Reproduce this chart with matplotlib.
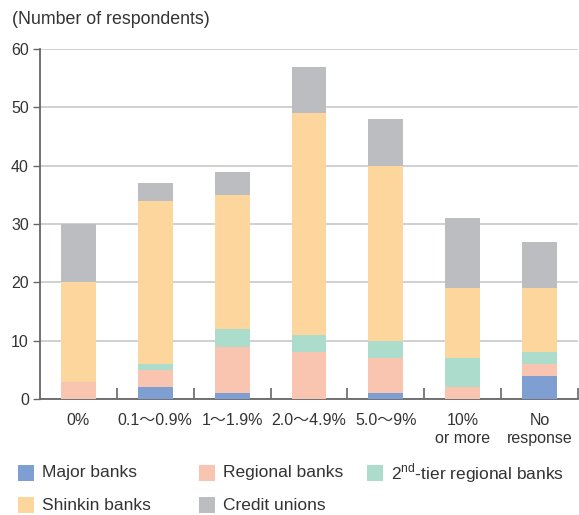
import matplotlib
matplotlib.use("Agg")
import matplotlib.pyplot as plt
from matplotlib.patches import Rectangle
import numpy as np

plt.rcParams['font.family'] = ['Liberation Sans', 'Noto Sans CJK JP', 'DejaVu Sans']

categories = ["0%", "0.1～0.9%", "1～1.9%", "2.0～4.9%", "5.0～9%", "10%\nor more", "No\nresponse"]
major = [0, 2, 1, 0, 1, 0, 4]
regional = [3, 3, 8, 8, 6, 2, 2]
second_tier = [0, 1, 3, 3, 3, 5, 2]
shinkin = [17, 28, 23, 38, 30, 12, 11]
credit = [10, 3, 4, 8, 8, 12, 8]

series = [
    ("Major banks", major, "#7f9fd3"),
    ("Regional banks", regional, "#fac5b0"),
    ("2$^{\\mathregular{nd}}$-tier regional banks", second_tier, "#acdccb"),
    ("Shinkin banks", shinkin, "#fdd69d"),
    ("Credit unions", credit, "#bcbdc1"),
]

W, H = 579, 515
fig = plt.figure(figsize=(W / 100, H / 100), dpi=100)
ax = fig.add_axes([40 / W, 1 - 399 / H, 538 / W, 350 / H])

x = np.arange(len(categories))
bottom = np.zeros(len(categories))
for name, vals, col in series:
    ax.bar(x, vals, width=0.455, bottom=bottom, color=col, zorder=3, linewidth=0)
    bottom += np.array(vals)

ax.set_xlim(-0.5, len(categories) - 0.5)
ax.set_ylim(0, 60)
ax.set_yticks(range(0, 61, 10))
ax.yaxis.grid(True, color="#c8c8c8", linewidth=1.2, zorder=0)
ax.set_axisbelow(True)

ax.set_xticks(x)
ax.set_xticklabels(categories, fontsize=11.5, color="#333333", linespacing=1.3)
ax.tick_params(axis='x', which='major', length=0, pad=10)
ax.set_xticks(np.arange(0.5, len(categories) - 0.4, 1), minor=True)
ax.tick_params(axis='x', which='minor', direction='in', length=8, width=1.2, color="#666666")
ax.tick_params(axis='y', labelsize=11.5, length=5, width=1, color="#666666", labelcolor="#333333", pad=3)

for s in ["top", "right"]:
    ax.spines[s].set_visible(False)
for s in ["left", "bottom"]:
    ax.spines[s].set_color("#666666")
    ax.spines[s].set_linewidth(1.3)

fig.text(12 / W, 1 - 19 / H, "(Number of respondents)", fontsize=12.8, color="#333333", va="center", ha="left")

# legend placed manually (pixel positions)
legend_pos = [
    (18, 473), (199, 473), (367, 473),
    (18, 505), (199, 505),
]
for (name, vals, col), (px, py) in zip(series, legend_pos):
    fig.add_artist(Rectangle((px / W, 1 - (py + 8) / H), 16 / W, 16 / H,
                             transform=fig.transFigure, facecolor=col, edgecolor="none"))
    fig.text((px + 24) / W, 1 - py / H, name, fontsize=12.5, color="#333333",
             va="center", ha="left")

fig.savefig("out.png", dpi=100)
